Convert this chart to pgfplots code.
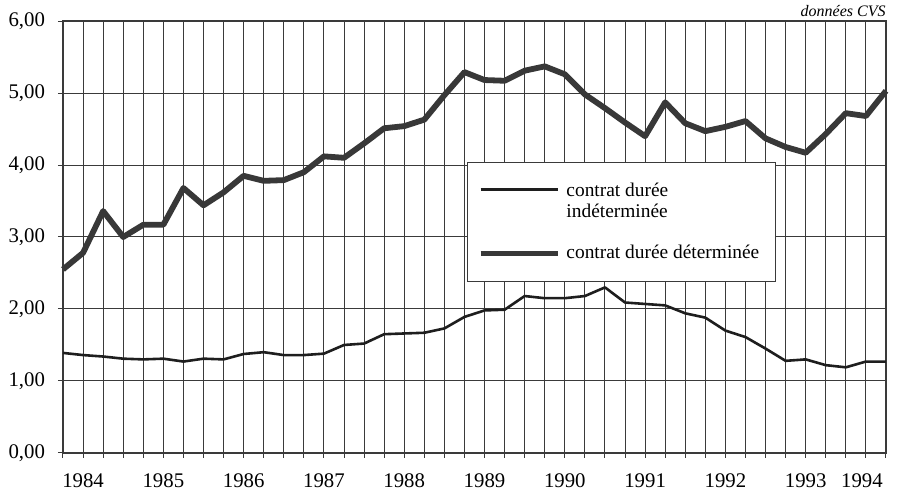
\documentclass[border=0pt]{standalone}
\usepackage{pgfplots}
\pgfplotsset{compat=1.18}
\usepackage{fontspec}
\setmainfont{Liberation Serif}
\definecolor{thickc}{HTML}{383838}
\definecolor{thinc}{HTML}{1E1E1E}
\definecolor{gridc}{HTML}{3A3A3A}
\pgfplotsset{
  plainimg/.style={legend image code/.code={\draw[##1] (0pt,0pt) -- (38.5pt,0pt);}},
  shiftedimg/.style={legend image code/.code={\path[draw=none, fill=none] (0pt,-6pt) -- (38.5pt,-6pt); \draw[##1] (0pt,6pt) -- (38.5pt,6pt);}},
}
\begin{document}
\begin{tikzpicture}
\useasboundingbox (-31.5pt,-19pt) rectangle (419pt,226.5pt);
\begin{axis}[
  scale only axis,
  width=411.5pt, height=216pt,
  xmin=0, xmax=41, ymin=0, ymax=6,
  clip=false,
  axis line style={gridc, line width=0.6pt},
  xtick={0,...,41},
  xticklabels={},
  extra x ticks={1,5,9,13,17,21,25,29,33,37,39.8},
  extra x tick labels={1984,1985,1986,1987,1988,1989,1990,1991,1992,1993,1994},
  extra x tick style={major tick length=0pt, grid=none, xticklabel style={yshift=-7pt}},
  ytick={0,1,2,3,4,5,6},
  xmajorgrids, ymajorgrids,
  grid style={gridc, line width=0.5pt},
  tick style={gridc, line width=0.5pt},
  tick align=outside,
  major tick length=2.5pt,
  xtick pos=bottom, ytick pos=left,
  yticklabel={\pgfmathprintnumber[fixed, fixed zerofill, precision=2, use comma, assume math mode=true]{\tick}},
  /pgf/number format/assume math mode=true,
  ticklabel style={font=\fontsize{10.4}{12}\selectfont},
  yticklabel style={xshift=-3pt},
  legend style={
    at={(axis cs:20.13,4.04)}, anchor=north west,
    draw=gridc, line width=0.6pt, fill=white,
    font=\fontsize{9.7}{10.5}\selectfont,
    inner xsep=5pt, inner ysep=8pt,
    row sep=8.5pt,
    nodes={align=left, inner xsep=3pt},
  },
  legend cell align=left,
]
\addplot[thinc, line width=1.3pt, line join=round, shiftedimg] coordinates {
(0,1.39) (1,1.36) (2,1.34) (3,1.31) (4,1.30) (5,1.31) (6,1.27) (7,1.31)
(8,1.30) (9,1.375) (10,1.40) (11,1.36) (12,1.36) (13,1.38) (14,1.50) (15,1.52)
(16,1.65) (17,1.66) (18,1.67) (19,1.73) (20,1.89) (21,1.98) (22,1.99) (23,2.18)
(24,2.15) (25,2.15) (26,2.18) (27,2.30) (28,2.09) (29,2.07) (30,2.05) (31,1.94)
(32,1.88) (33,1.70) (34,1.61) (35,1.45) (36,1.28) (37,1.30) (38,1.22) (39,1.19)
(40,1.27) (41,1.27)
};
\addlegendentry{contrat durée\\indéterminée}
\addplot[thickc, line width=2.9pt, line join=round, plainimg] coordinates {
(0,2.55) (1,2.78) (2,3.36) (3,3.00) (4,3.17) (5,3.17) (6,3.68) (7,3.44)
(8,3.62) (9,3.85) (10,3.78) (11,3.79) (12,3.90) (13,4.12) (14,4.10) (15,4.30)
(16,4.51) (17,4.54) (18,4.63) (19,4.97) (20,5.29) (21,5.18) (22,5.17) (23,5.31)
(24,5.37) (25,5.26) (26,4.98) (27,4.79) (28,4.59) (29,4.40) (30,4.87) (31,4.58)
(32,4.47) (33,4.53) (34,4.61) (35,4.37) (36,4.25) (37,4.17) (38,4.43) (39,4.72)
(40,4.68) (41,5.03)
};
\addlegendentry{contrat durée déterminée}
\node[anchor=base east, yshift=2.5pt, font=\itshape\fontsize{8}{9}\selectfont, inner sep=0pt] at (rel axis cs:1,1) {données CVS};
\end{axis}
\end{tikzpicture}
\end{document}
